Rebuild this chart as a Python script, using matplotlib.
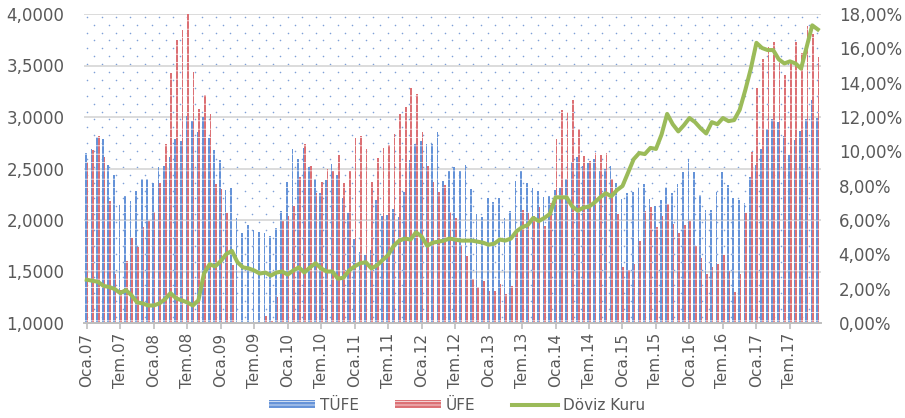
import matplotlib
matplotlib.use("Agg")
import matplotlib.pyplot as plt
import numpy as np
from matplotlib.lines import Line2D
from matplotlib.patches import Patch
from matplotlib.ticker import FuncFormatter, FixedLocator

# Annual CPI (TÜFE) and PPI (ÜFE) change in %, monthly, Jan 2007 - Dec 2017
tufe = [
    9.93, 10.16, 10.86, 10.72, 9.23, 8.60, 6.90, 7.39, 7.12, 7.70, 8.40, 8.39,
    8.17, 9.10, 9.15, 9.66, 10.74, 10.61, 12.06, 11.77, 11.13, 11.99, 10.76, 10.06,
    9.50, 7.73, 7.89, 6.13, 5.24, 5.73, 5.39, 5.33, 5.27, 5.08, 5.53, 6.53,
    8.19, 10.13, 9.56, 10.19, 9.10, 8.37, 7.58, 8.33, 9.24, 8.62, 7.29, 6.40,
    4.90, 4.16, 3.99, 4.26, 7.17, 6.24, 6.31, 6.65, 6.15, 7.66, 9.48, 10.45,
    10.61, 10.43, 10.43, 11.14, 8.28, 8.87, 9.07, 8.88, 9.19, 7.80, 6.37, 6.16,
    7.31, 7.03, 7.29, 6.13, 6.51, 8.30, 8.88, 8.17, 7.88, 7.71, 7.32, 7.40,
    7.75, 7.89, 8.39, 9.38, 9.66, 9.16, 9.32, 9.54, 8.86, 8.96, 9.15, 8.17,
    7.24, 7.55, 7.61, 7.91, 8.09, 7.20, 6.81, 7.14, 7.95, 7.58, 8.10, 8.81,
    9.58, 8.78, 7.46, 6.57, 6.58, 7.64, 8.79, 8.05, 7.28, 7.16, 7.00, 8.53,
    9.22, 10.13, 11.29, 11.87, 11.72, 10.90, 9.79, 10.68, 11.20, 11.90, 12.98, 11.92,
]
ufe = [
    9.35, 10.10, 10.90, 9.65, 7.10, 2.85, 1.95, 3.60, 4.95, 4.40, 5.60, 5.94,
    6.44, 8.15, 10.40, 14.55, 16.50, 17.05, 18.00, 14.65, 12.45, 13.30, 12.20, 8.11,
    7.80, 6.40, 3.40, -0.50, -0.40, -1.00, -2.50, -1.20, 0.40, 0.10, 1.50, 5.93,
    6.25, 6.80, 8.50, 10.40, 9.15, 7.55, 8.20, 9.00, 8.85, 9.80, 8.15, 8.87,
    10.80, 10.89, 10.15, 8.21, 9.63, 10.19, 10.34, 11.00, 12.15, 12.58, 13.67, 13.33,
    11.13, 9.15, 8.22, 7.65, 8.03, 6.44, 6.13, 4.56, 3.93, 2.57, 2.12, 2.45,
    1.88, 1.84, 2.30, 1.70, 2.17, 5.23, 6.61, 6.38, 6.23, 6.77, 5.67, 6.97,
    10.72, 12.40, 12.31, 12.98, 11.28, 9.75, 9.46, 9.88, 9.80, 9.90, 8.36, 6.36,
    3.28, 3.10, 3.41, 4.80, 6.52, 6.73, 5.62, 6.21, 6.92, 5.74, 5.25, 5.71,
    5.94, 4.49, 3.80, 2.87, 3.25, 3.41, 3.96, 3.03, 1.78, 2.84, 6.41, 9.94,
    13.69, 15.36, 16.09, 16.37, 15.26, 14.45, 15.20, 16.34, 15.75, 17.28, 16.85, 15.47,
]
# USD/TRY monthly average
doviz = [
    1.42, 1.41, 1.40, 1.36, 1.35, 1.33, 1.29, 1.32, 1.27, 1.20, 1.19, 1.17,
    1.17, 1.19, 1.23, 1.29, 1.24, 1.22, 1.20, 1.17, 1.22, 1.48, 1.57, 1.55,
    1.60, 1.67, 1.70, 1.59, 1.54, 1.53, 1.51, 1.48, 1.49, 1.46, 1.49, 1.50,
    1.47, 1.51, 1.54, 1.49, 1.54, 1.58, 1.53, 1.50, 1.50, 1.43, 1.44, 1.51,
    1.55, 1.58, 1.59, 1.53, 1.56, 1.61, 1.66, 1.75, 1.80, 1.82, 1.81, 1.88,
    1.84, 1.75, 1.78, 1.79, 1.80, 1.82, 1.81, 1.80, 1.80, 1.80, 1.79, 1.78,
    1.76, 1.77, 1.81, 1.80, 1.82, 1.89, 1.93, 1.95, 2.02, 1.99, 2.02, 2.06,
    2.22, 2.22, 2.22, 2.13, 2.09, 2.12, 2.13, 2.17, 2.22, 2.26, 2.23, 2.29,
    2.33, 2.46, 2.59, 2.65, 2.64, 2.70, 2.69, 2.83, 3.03, 2.93, 2.86, 2.92,
    2.99, 2.95, 2.89, 2.84, 2.95, 2.93, 2.99, 2.96, 2.97, 3.07, 3.26, 3.47,
    3.72, 3.67, 3.65, 3.65, 3.56, 3.52, 3.54, 3.52, 3.47, 3.68, 3.89, 3.85,
]
tick_labels = [
    "Oca.07", "Tem.07", "Oca.08", "Tem.08", "Oca.09", "Tem.09", "Oca.10", "Tem.10",
    "Oca.11", "Tem.11", "Oca.12", "Tem.12", "Oca.13", "Tem.13", "Oca.14", "Tem.14",
    "Oca.15", "Tem.15", "Oca.16", "Tem.16", "Oca.17", "Tem.17",
]

BLUE = "#6593d8"
RED = "#dc7074"
GREEN = "#9bbb59"
TEXT = "#595959"
GRID = "#d9d9d9"

plt.rcParams["font.family"] = ["DejaVu Sans"]
plt.rcParams["hatch.color"] = "#ffffff"
plt.rcParams["hatch.linewidth"] = 0.5

fig = plt.figure(figsize=(9.05, 4.18), dpi=100)
ax = fig.add_axes([84 / 905, 1 - 323 / 418, 736.6 / 905, 309 / 418])
ax2 = ax.twinx()

x = np.arange(len(tufe))
bw = 0.3

# dotted plot-area fill
W, H = 736.6, 309.0
dx, dy = [], []
for i, r in enumerate(np.arange(2.7, H, 7.9)):
    cols = np.arange(3.3 + (7.15 if i % 2 else 0.0), W, 14.3)
    dx.extend(cols / W)
    dy.extend([1 - r / H] * len(cols))
ax.scatter(dx, dy, s=1.3, color="#7fa0d8", linewidths=0,
           transform=ax.transAxes, zorder=0.5)

# gridlines follow the left (exchange rate) scale
for v in np.arange(1.5, 4.01, 0.5):
    ax.axhline((v - 1) / 3 * 18, color=GRID, lw=1.3, zorder=0.8)

ax.bar(x - bw / 2, tufe, bw, color=BLUE, linewidth=0, hatch="--", zorder=2)
ax.bar(x + bw / 2, ufe, bw, color=RED, linewidth=0, hatch="--", zorder=2)
ax2.plot(x, doviz, color=GREEN, lw=2.9, solid_joinstyle="round", zorder=3)

ax.set_xlim(-0.5, len(tufe) - 0.5)
ax.set_ylim(0, 18)
ax2.set_ylim(1, 4)

ax.yaxis.tick_right()
ax.set_yticks(np.arange(0, 18.01, 2))
ax.yaxis.set_major_formatter(FuncFormatter(lambda v, p: f"{v:.2f}%".replace(".", ",")))
ax2.yaxis.tick_left()
ax2.set_yticks(np.arange(1, 4.01, 0.5))
ax2.yaxis.set_major_formatter(FuncFormatter(lambda v, p: f"{v:.4f}".replace(".", ",")))

ax.xaxis.set_major_locator(FixedLocator(np.arange(0, len(tufe), 6)))
ax.set_xticklabels(tick_labels, rotation=90, fontsize=11, color=TEXT)

for a in (ax, ax2):
    for s in ("top", "left", "right"):
        a.spines[s].set_visible(False)
    a.spines["bottom"].set_color("#bfbfbf")
    a.spines["bottom"].set_linewidth(1.3)
ax.tick_params(axis="y", length=0, pad=13, labelsize=12, labelcolor=TEXT)
ax2.tick_params(axis="y", length=0, pad=14, labelsize=12, labelcolor=TEXT)
ax.tick_params(axis="x", length=4, width=1.2, color="#bfbfbf", pad=3)

handles = [
    Patch(facecolor=BLUE, linewidth=0, hatch="-----", label="TÜFE"),
    Patch(facecolor=RED, linewidth=0, hatch="-----", label="ÜFE"),
    Line2D([], [], color=GREEN, lw=2.9, label="Döviz Kuru"),
]
fig.legend(handles=handles, loc="center", bbox_to_anchor=(457 / 905, 1 - 405 / 418),
           ncol=3, frameon=False, fontsize=11, labelcolor=TEXT,
           handlelength=3.0, handleheight=0.45, handletextpad=0.3, columnspacing=2.4)

fig.savefig("out.png", dpi=100)
